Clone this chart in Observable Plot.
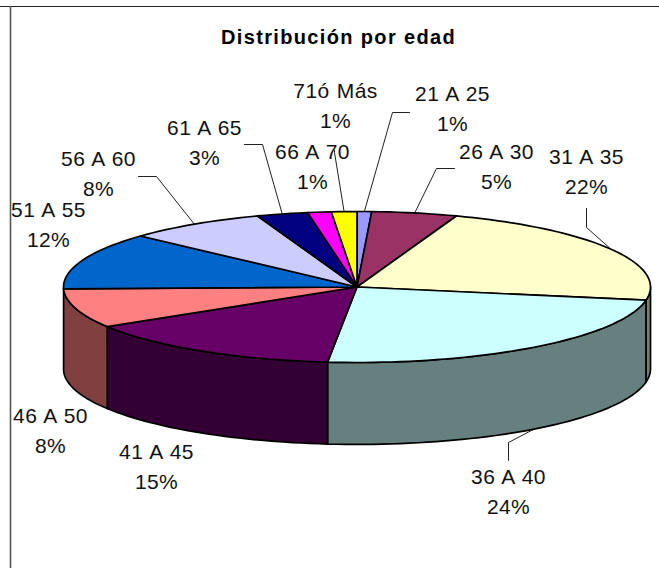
<!DOCTYPE html>
<html lang="es">
<head>
<meta charset="utf-8">
<script src="https://cdn.jsdelivr.net/npm/d3@7"></script>
<script src="https://cdn.jsdelivr.net/npm/@observablehq/plot@0.6"></script>
<style>
html,body{margin:0;padding:0;background:#fff;overflow:hidden}
svg g[font-weight="bold"] text{letter-spacing:1.35px}
svg g[font-size="21"] text{letter-spacing:.4px;word-spacing:1px}
</style>
</head>
<body>
<div id="chart"></div>
<script>
// Data
const titulo = "Distribución por edad";
const edades = ["21 A 25","26 A 30","31 A 35","36 A 40","41 A 45","46 A 50","51 A 55","56 A 60","61 A 65","66 A 70","71ó Más"];
const shares = [0.8,4.7,22.3,23.8,14.6,8.4,12.2,7.7,2.8,1.3,1.4];
const colores = ["#9999FF","#993366","#FFFFCC","#CCFFFF","#660066","#FF8080","#0066CC","#CCCCFF","#000080","#FF00FF","#FFFF00"];
const lados = ["#4d4d80","#4d1a33","#808066","#668080","#330033","#804040","#003366","#666680","#000040","#800080","#808000"];

// Layout of the tilted pie, in page pixels
const W = 659, H = 568, CX = 356.5, CY = 286.5, RX = 293.5, RY = 75.5, DEPTH = 1.085;
const ux = px => (px - CX) / RX, uy = py => (CY - py) / RY;

// Annotation placement: label block centre, leader elbow points
const labelCentro = [[452,105.5],[496,163.5],[586,168.5],[508,488.5],[156,463.5],[50,427.5],[48,221.5],[98,170.5],[204,139.5],[312,163.5],[335,102.5]];
const guias = {
  "21 A 25": [[409,112],[392,112]],
  "26 A 30": [[454,168],[436,168]],
  "31 A 35": [[586,208],[586,227]],
  "36 A 40": [[508,460],[508,442]],
  "56 A 60": [[138,176],[156,176]],
  "61 A 65": [[244,144],[262,144]],
  "71ó Más": [[334,150],[334,152]]
};

const rad = d => d * Math.PI / 50; // percent to radians, clockwise from 12 o'clock
const total = d3.sum(shares);
let acc = 0;
const slices = edades.map((edad, i) => {
  const a0 = acc; acc += shares[i] * 100 / total;
  return {edad, a0, a1: acc, pct: Math.round(shares[i] * 100 / total), topColor: colores[i], sideColor: lados[i], i};
});
const rim = (a, z = 0) => ({x: Math.sin(rad(a)), y: Math.cos(rad(a)) - z});
const arcPts = (a0, a1, z = 0) => {
  const n = Math.max(2, Math.ceil((a1 - a0) * 2));
  return d3.range(n + 1).map(k => rim(a0 + (a1 - a0) * k / n, z));
};

// Outer wall (only the front half of the rim is seen)
const wallFaces = slices.flatMap(s => {
  const a0 = Math.max(s.a0, 25), a1 = Math.min(s.a1, 75);
  if (a1 - a0 <= 0.5) return [];
  const pts = [...arcPts(a0, a1), ...arcPts(a0, a1, DEPTH).reverse()];
  pts.push(pts[0]);
  return pts.map(p => ({...p, key: s.edad, color: s.sideColor}));
});
// Top face
const topFaces = slices.flatMap(s => {
  const pts = [{x: 0, y: 0}, ...arcPts(s.a0, s.a1), {x: 0, y: 0}];
  return pts.map(p => ({...p, key: s.edad, color: s.topColor}));
});
// Leaders run from the rim at mid-slice to the elbow
const leaders = slices.filter(s => guias[s.edad]).flatMap(s => {
  const mid = (s.a0 + s.a1) / 2;
  const front = mid > 25 && mid < 75;
  const end = rim(mid, front ? DEPTH : 0);
  return [...guias[s.edad].map(([x, y]) => ({x: ux(x), y: uy(y)})), end].map(p => ({...p, key: s.edad}));
});
const labels = slices.map(s => ({
  x: ux(labelCentro[s.i][0]), y: uy(labelCentro[s.i][1]),
  text: `${s.edad}\n${s.pct}%`
}));

const chart = Plot.plot({
  width: W, height: H, margin: 0,
  style: {background: "#fff", fontFamily: "'Liberation Sans', Arial, sans-serif"},
  x: {domain: [ux(0), ux(W)], range: [0, W], axis: null},
  y: {domain: [uy(0), uy(H)], range: [0, H], axis: null},
  color: {type: "identity"},
  marks: [
    Plot.ruleY([uy(6)], {stroke: "#222", strokeWidth: 1.2}),
    Plot.ruleX([ux(10)], {stroke: "#555", strokeWidth: 1.6, y1: uy(6), y2: uy(H)}),
    Plot.line(leaders, {x: "x", y: "y", z: "key", stroke: "#222", strokeWidth: 1}),
    Plot.line(wallFaces, {x: "x", y: "y", z: "key", fill: "color", stroke: "#000", strokeWidth: 1.7, strokeLinejoin: "round"}),
    Plot.line(topFaces, {x: "x", y: "y", z: "key", fill: "color", stroke: "#000", strokeWidth: 1.7, strokeLinejoin: "round"}),
    Plot.text(labels, {x: "x", y: "y", text: "text", fontSize: 21, lineHeight: 30 / 21, fill: "#111", textAnchor: "middle"}),
    Plot.text([titulo], {x: [ux(338)], y: [uy(37)], text: d => d, fontSize: 20, fontWeight: "bold", fill: "#000", textAnchor: "middle"})
  ]
});
document.getElementById("chart").append(chart);
</script>
</body>
</html>
